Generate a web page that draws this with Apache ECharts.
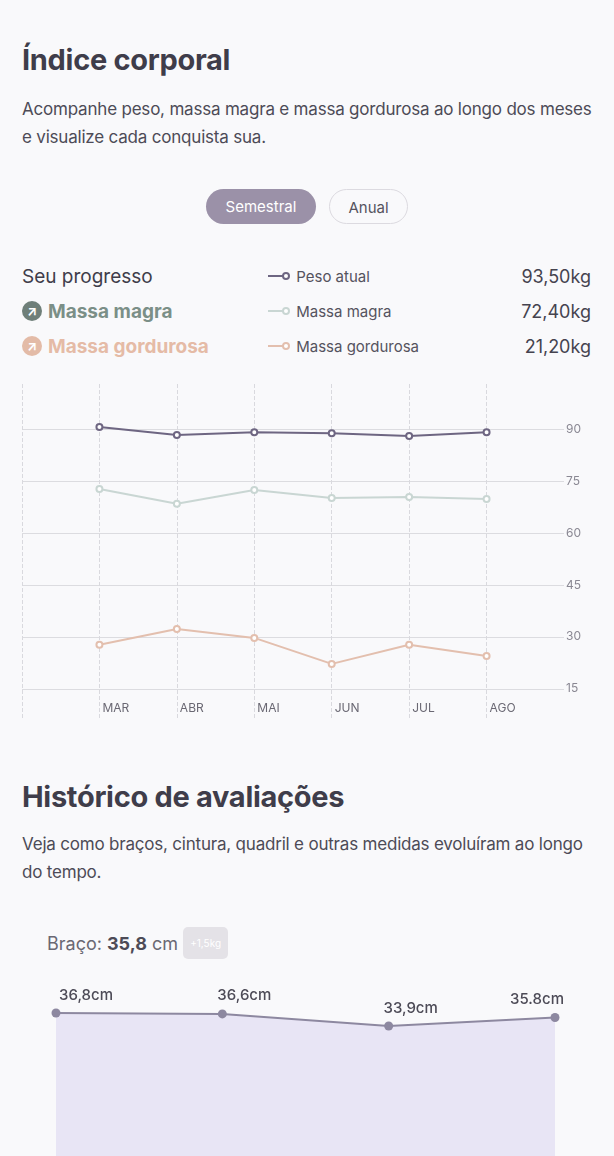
<!DOCTYPE html>
<html lang="pt">
<head>
<meta charset="UTF-8">
<title>Índice corporal</title>
<script src="https://cdn.jsdelivr.net/npm/echarts@6/dist/echarts.min.js"></script>
<style>
  body{margin:0;width:614px;height:1156px;overflow:hidden;background:#f9f9fb;font-family:Inter,"Noto Sans",sans-serif;color:#45434f;position:relative}
  .abs{position:absolute;white-space:nowrap}
  h1,h2{margin:0;font-size:29px;font-weight:700;color:#3f3d4a;letter-spacing:-0.3px}
  p.abs{margin:0;font-size:17px;letter-spacing:-0.2px;line-height:28px;color:#4d4b57;white-space:normal;width:575px}
  .btn{position:absolute;top:189px;height:35px;border-radius:18px;font-size:15px;line-height:35px;text-align:center;box-sizing:border-box}
  .lg{font-size:15px;color:#55535e}
  .lg i{display:inline-block;width:20px;height:2px;vertical-align:middle;position:relative;margin-right:4px;top:-2px}
  .lg i:after{content:"";position:absolute;right:-2px;top:-3px;width:4px;height:4px;border-radius:50%;border:2px solid;border-color:inherit;background:#fff}
  .val{font-size:18px;color:#45434f;right:23px}
  .ic{display:inline-block;width:20px;height:20px;border-radius:50%;color:#fff;font-size:13px;line-height:20px;text-align:center;vertical-align:middle;margin-right:6px;position:relative;top:-2px}
</style>
</head>
<body>
<h1 class="abs" style="left:22px;top:42px">Índice corporal</h1>
<p class="abs" style="left:22px;top:95px">Acompanhe peso, massa magra e massa gordurosa ao longo dos meses e visualize cada conquista sua.</p>
<div class="btn" style="left:206px;width:110px;background:#9b91a8;color:#fff">Semestral</div>
<div class="btn" style="left:329px;width:79px;border:1.5px solid #dcdae0;color:#55535e">Anual</div>

<div class="abs" style="left:22px;top:265px;font-size:19px;color:#3f3d4a">Seu progresso</div>
<div class="abs" style="left:22px;top:300px;font-size:19px;font-weight:700;color:#7b8f87"><span class="ic" style="background:#6f7f79">&#8599;</span>Massa magra</div>
<div class="abs" style="left:22px;top:335px;font-size:19px;font-weight:700;color:#e5bba6"><span class="ic" style="background:#e3bba7">&#8599;</span>Massa gordurosa</div>
<div class="abs lg" style="left:268px;top:267px"><i style="background:#6e6682;border-color:#6e6682"></i> Peso atual</div>
<div class="abs lg" style="left:268px;top:302px"><i style="background:#c9d6d3;border-color:#c9d6d3"></i> Massa magra</div>
<div class="abs lg" style="left:268px;top:337px"><i style="background:#e3bfae;border-color:#e3bfae"></i> Massa gordurosa</div>
<div class="abs val" style="top:266px">93,50kg</div>
<div class="abs val" style="top:301px">72,40kg</div>
<div class="abs val" style="top:336px">21,20kg</div>

<div id="main" class="abs" style="left:0;top:380px;width:614px;height:350px"></div>

<h2 class="abs" style="left:22px;top:779px">Histórico de avaliações</h2>
<p class="abs" style="left:22px;top:830px">Veja como braços, cintura, quadril e outras medidas evoluíram ao longo do tempo.</p>
<div class="abs" style="left:47px;top:929px;font-size:18px;color:#6a6873">Braço: <b style="color:#4d4b57">35,8</b> cm <span style="display:inline-block;background:#e4e2e7;color:#fff;font-size:10px;border-radius:5px;padding:0 7px;line-height:32px;vertical-align:middle;position:relative;top:-2px">+1,5kg</span></div>
<div id="arm" class="abs" style="left:0;top:960px;width:614px;height:240px"></div>

<script>
  var months = ['', 'MAR', 'ABR', 'MAI', 'JUN', 'JUL', 'AGO', ''];
  var peso = [null, 90.6, 88.3, 89.1, 88.8, 88.0, 89.1, null];
  var magra = [null, 72.7, 68.4, 72.4, 70.1, 70.4, 69.8, null];
  var gordurosa = [null, 27.7, 32.3, 29.7, 22.2, 27.7, 24.5, null];
  var yTicks = [15, 30, 45, 60, 75, 90];

  var armDates = ['a', 'b', 'c', 'd'];
  var armValues = [36.8, 36.6, 33.9, 35.8];
  var armLabels = ['36,8cm', '36,6cm', '33,9cm', '35.8cm'];

  function serie(name, data, color) {
    return {
      name: name, type: 'line', data: data, symbol: 'emptyCircle', symbolSize: 6,
      lineStyle: {color: color, width: 2}, itemStyle: {color: color, borderWidth: 2}
    };
  }

  var chart = echarts.init(document.getElementById('main'));
  chart.setOption({
    animation: false,
    grid: {left: 22, right: 50, top: 4, bottom: 10},
    xAxis: {
      type: 'category', data: months, boundaryGap: false,
      axisLine: {show: false}, axisTick: {show: false},
      axisLabel: {inside: true, margin: 6, color: '#6a6873', fontSize: 12, align: 'left', padding: [0, 0, 0, 3],
        fontFamily: 'Inter'},
      splitLine: {show: true, interval: function (i) { return i < 7; },
        lineStyle: {type: 'dashed', color: '#d9d9de', width: 1}}
    },
    yAxis: {
      type: 'value', position: 'right', min: 6, max: 103,
      axisLine: {show: false},
      axisTick: {show: false, customValues: yTicks},
      axisLabel: {customValues: yTicks, margin: 2, color: '#8a8893', fontSize: 12, fontFamily: 'Inter'},
      splitLine: {show: true, lineStyle: {color: '#dcdce0', width: 1}}
    },
    series: [
      serie('Peso atual', peso, '#6e6682'),
      serie('Massa magra', magra, '#c9d6d3'),
      serie('Massa gordurosa', gordurosa, '#e3bfae')
    ]
  });

  var arm = echarts.init(document.getElementById('arm'));
  arm.setOption({
    animation: false,
    grid: {left: 56, right: 59, top: 53, bottom: 22},
    xAxis: {type: 'category', data: armDates, boundaryGap: false, show: false},
    yAxis: {type: 'value', min: 0, max: 36.8, show: false},
    series: [{
      type: 'line', data: armValues, symbol: 'circle', symbolSize: 9,
      lineStyle: {color: '#8d88a0', width: 2}, itemStyle: {color: '#8d88a0'},
      areaStyle: {color: '#e8e5f5', opacity: 1},
      label: {show: true, position: 'top', distance: 6, color: '#4d4b57', fontSize: 15, fontWeight: 500,
        fontFamily: 'Inter',
        formatter: function (p) { return armLabels[p.dataIndex]; }},
      labelLayout: function (p) {
        if (p.dataIndex === 0) return {dx: 30};
        if (p.dataIndex === 3) return {dx: -18};
        return {dx: 22};
      }
    }]
  });
</script>
</body>
</html>
